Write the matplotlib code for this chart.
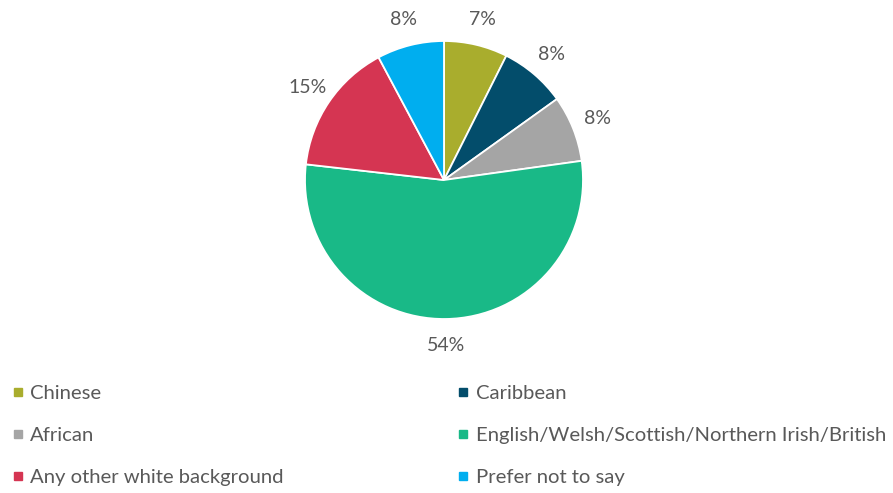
import matplotlib
matplotlib.use("Agg")
import matplotlib.pyplot as plt
from matplotlib.lines import Line2D

categories = ["Chinese", "Caribbean", "African",
              "English/Welsh/Scottish/Northern Irish/British",
              "Any other white background", "Prefer not to say"]
values = [7.4, 7.7, 7.7, 54.0, 15.4, 7.8]
colors = ["#A9AD2D", "#034D6B", "#A5A5A5", "#19B987", "#D53552", "#00AEEF"]

plt.rcParams['font.family'] = ['Lato', 'DejaVu Sans']
text_color = "#595959"

W, H = 893, 493
fig = plt.figure(figsize=(W / 100, H / 100), dpi=100)
cx, cy, r = 444, 180, 139
ax = fig.add_axes([(cx - r) / W, (H - cy - r) / H, 2 * r / W, 2 * r / H])

wedges, texts = ax.pie(values, colors=colors, startangle=90, counterclock=False,
                       labels=[f"{v:.0f}%" for v in values], labeldistance=1.19,
                       wedgeprops=dict(edgecolor="white", linewidth=1.3),
                       textprops=dict(color=text_color, fontsize=14))
ax.set_xlim(-1, 1)
ax.set_ylim(-1, 1)
ax.set_aspect('equal')
for t in texts:
    t.set_horizontalalignment('center')
    t.set_verticalalignment('center')

handles = [Line2D([], [], linestyle='none', marker='s', markersize=6,
                  markerfacecolor=c, markeredgecolor=c) for c in colors]
order = [0, 2, 4, 1, 3, 5]
leg = fig.legend([handles[i] for i in order], [categories[i] for i in order],
                 ncol=2, loc='upper left', bbox_to_anchor=(0.0 / W, 1 - 373 / H),
                 frameon=False, fontsize=14.6, labelcolor=text_color,
                 handlelength=0.55, handletextpad=0.35, labelspacing=1.22,
                 columnspacing=8.55, borderaxespad=0, borderpad=0.6)

fig.savefig("out.png", dpi=100)
